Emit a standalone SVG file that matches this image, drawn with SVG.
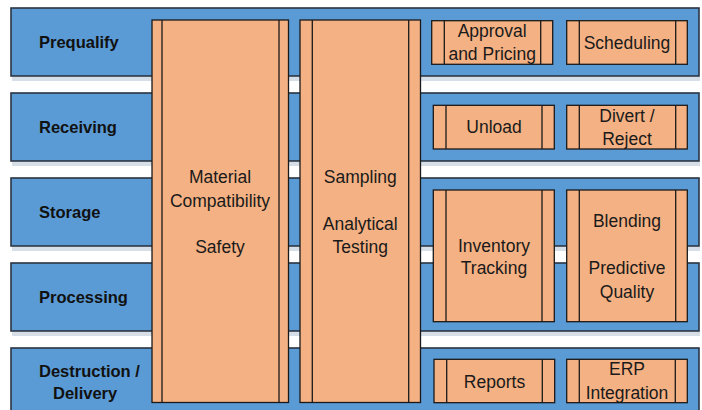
<svg xmlns="http://www.w3.org/2000/svg" width="702" height="410" viewBox="0 0 702 410">
<defs>
<style>
.band{fill:#5B9BD5;stroke:#2A3442;stroke-width:1.6}
.shadow{fill:#D6DEE8}
.box{fill:#F4B183;stroke:#1A1A1A;stroke-width:1.3}
.bar{stroke:#1A1A1A;stroke-width:1.3}
.lbl{font-family:"Liberation Sans",Arial,sans-serif;font-weight:bold;font-size:16.5px;fill:#111}
.txt{font-family:"Liberation Sans",Arial,sans-serif;font-size:17.5px;fill:#1A1A1A;text-anchor:middle}
</style>
</defs>
<rect width="702" height="410" fill="#FFFFFF"/>
<g id="band-prequalify">
<rect class="shadow" x="12" y="77" width="688" height="4"/>
<rect class="band" x="11" y="8" width="688" height="68"/>
<text class="lbl" x="39" y="48">Prequalify</text>
</g>
<g id="band-receiving">
<rect class="shadow" x="12" y="162" width="688" height="4"/>
<rect class="band" x="11" y="93" width="688" height="68"/>
<text class="lbl" x="39" y="133">Receiving</text>
</g>
<g id="band-storage">
<rect class="shadow" x="12" y="247" width="688" height="4"/>
<rect class="band" x="11" y="178" width="688" height="68"/>
<text class="lbl" x="39" y="218">Storage</text>
</g>
<g id="band-processing">
<rect class="shadow" x="12" y="332" width="688" height="4"/>
<rect class="band" x="11" y="263" width="688" height="68"/>
<text class="lbl" x="39" y="303">Processing</text>
</g>
<g id="band-destruction">
<rect class="band" x="11" y="348" width="688" height="70"/>
<text class="lbl" x="39" y="377">Destruction /</text>
<text class="lbl" x="53" y="399">Delivery</text>
</g>
<g id="material-compatibility">
<rect class="box" x="152" y="20" width="136.5" height="382.5"/>
<line class="bar" x1="162" y1="20" x2="162" y2="402.5"/>
<line class="bar" x1="279" y1="20" x2="279" y2="402.5"/>
<text class="txt" x="220" y="183">Material</text>
<text class="txt" x="220" y="206.5">Compatibility</text>
<text class="txt" x="220" y="253">Safety</text>
</g>
<g id="sampling-testing">
<rect class="box" x="300" y="20" width="120.5" height="382.5"/>
<line class="bar" x1="312.3" y1="20" x2="312.3" y2="402.5"/>
<line class="bar" x1="408.7" y1="20" x2="408.7" y2="402.5"/>
<text class="txt" x="360.3" y="183">Sampling</text>
<text class="txt" x="360.3" y="230">Analytical</text>
<text class="txt" x="360.3" y="253">Testing</text>
</g>
<g id="approval-pricing">
<rect class="box" x="431.7" y="20.7" width="121" height="43.6"/>
<line class="bar" x1="444.3" y1="20.7" x2="444.3" y2="64.3"/>
<line class="bar" x1="540.7" y1="20.7" x2="540.7" y2="64.3"/>
<text class="txt" x="492.2" y="36.7">Approval</text>
<text class="txt" x="492.2" y="59.5">and Pricing</text>
</g>
<g id="scheduling">
<rect class="box" x="566.7" y="20.7" width="120.6" height="43.6"/>
<line class="bar" x1="579.3" y1="20.7" x2="579.3" y2="64.3"/>
<line class="bar" x1="675.7" y1="20.7" x2="675.7" y2="64.3"/>
<text class="txt" x="627" y="49">Scheduling</text>
</g>
<g id="unload">
<rect class="box" x="433.3" y="105.3" width="121" height="43.7"/>
<line class="bar" x1="446" y1="105.3" x2="446" y2="149"/>
<line class="bar" x1="542" y1="105.3" x2="542" y2="149"/>
<text class="txt" x="494" y="132.5">Unload</text>
</g>
<g id="divert-reject">
<rect class="box" x="566.7" y="105.3" width="120.6" height="43.7"/>
<line class="bar" x1="579.3" y1="105.3" x2="579.3" y2="149"/>
<line class="bar" x1="675.7" y1="105.3" x2="675.7" y2="149"/>
<text class="txt" x="627" y="122">Divert /</text>
<text class="txt" x="627" y="145">Reject</text>
</g>
<g id="inventory-tracking">
<rect class="box" x="433.3" y="190" width="121" height="131.7"/>
<line class="bar" x1="446" y1="190" x2="446" y2="321.7"/>
<line class="bar" x1="542" y1="190" x2="542" y2="321.7"/>
<text class="txt" x="494" y="251.5">Inventory</text>
<text class="txt" x="494" y="274">Tracking</text>
</g>
<g id="blending-quality">
<rect class="box" x="566.7" y="190" width="120.6" height="131.7"/>
<line class="bar" x1="579.3" y1="190" x2="579.3" y2="321.7"/>
<line class="bar" x1="675.7" y1="190" x2="675.7" y2="321.7"/>
<text class="txt" x="627" y="226.5">Blending</text>
<text class="txt" x="627" y="273.5">Predictive</text>
<text class="txt" x="627" y="298">Quality</text>
</g>
<g id="reports">
<rect class="box" x="434" y="359.3" width="120.7" height="43.4"/>
<line class="bar" x1="446.7" y1="359.3" x2="446.7" y2="402.7"/>
<line class="bar" x1="542.3" y1="359.3" x2="542.3" y2="402.7"/>
<text class="txt" x="494.5" y="387.5">Reports</text>
</g>
<g id="erp-integration">
<rect class="box" x="566.7" y="359.3" width="120.6" height="43.4"/>
<line class="bar" x1="579.3" y1="359.3" x2="579.3" y2="402.7"/>
<line class="bar" x1="675.3" y1="359.3" x2="675.3" y2="402.7"/>
<text class="txt" x="627" y="375">ERP</text>
<text class="txt" x="627" y="399">Integration</text>
</g>
<g id="connectors"></g>
</svg>
